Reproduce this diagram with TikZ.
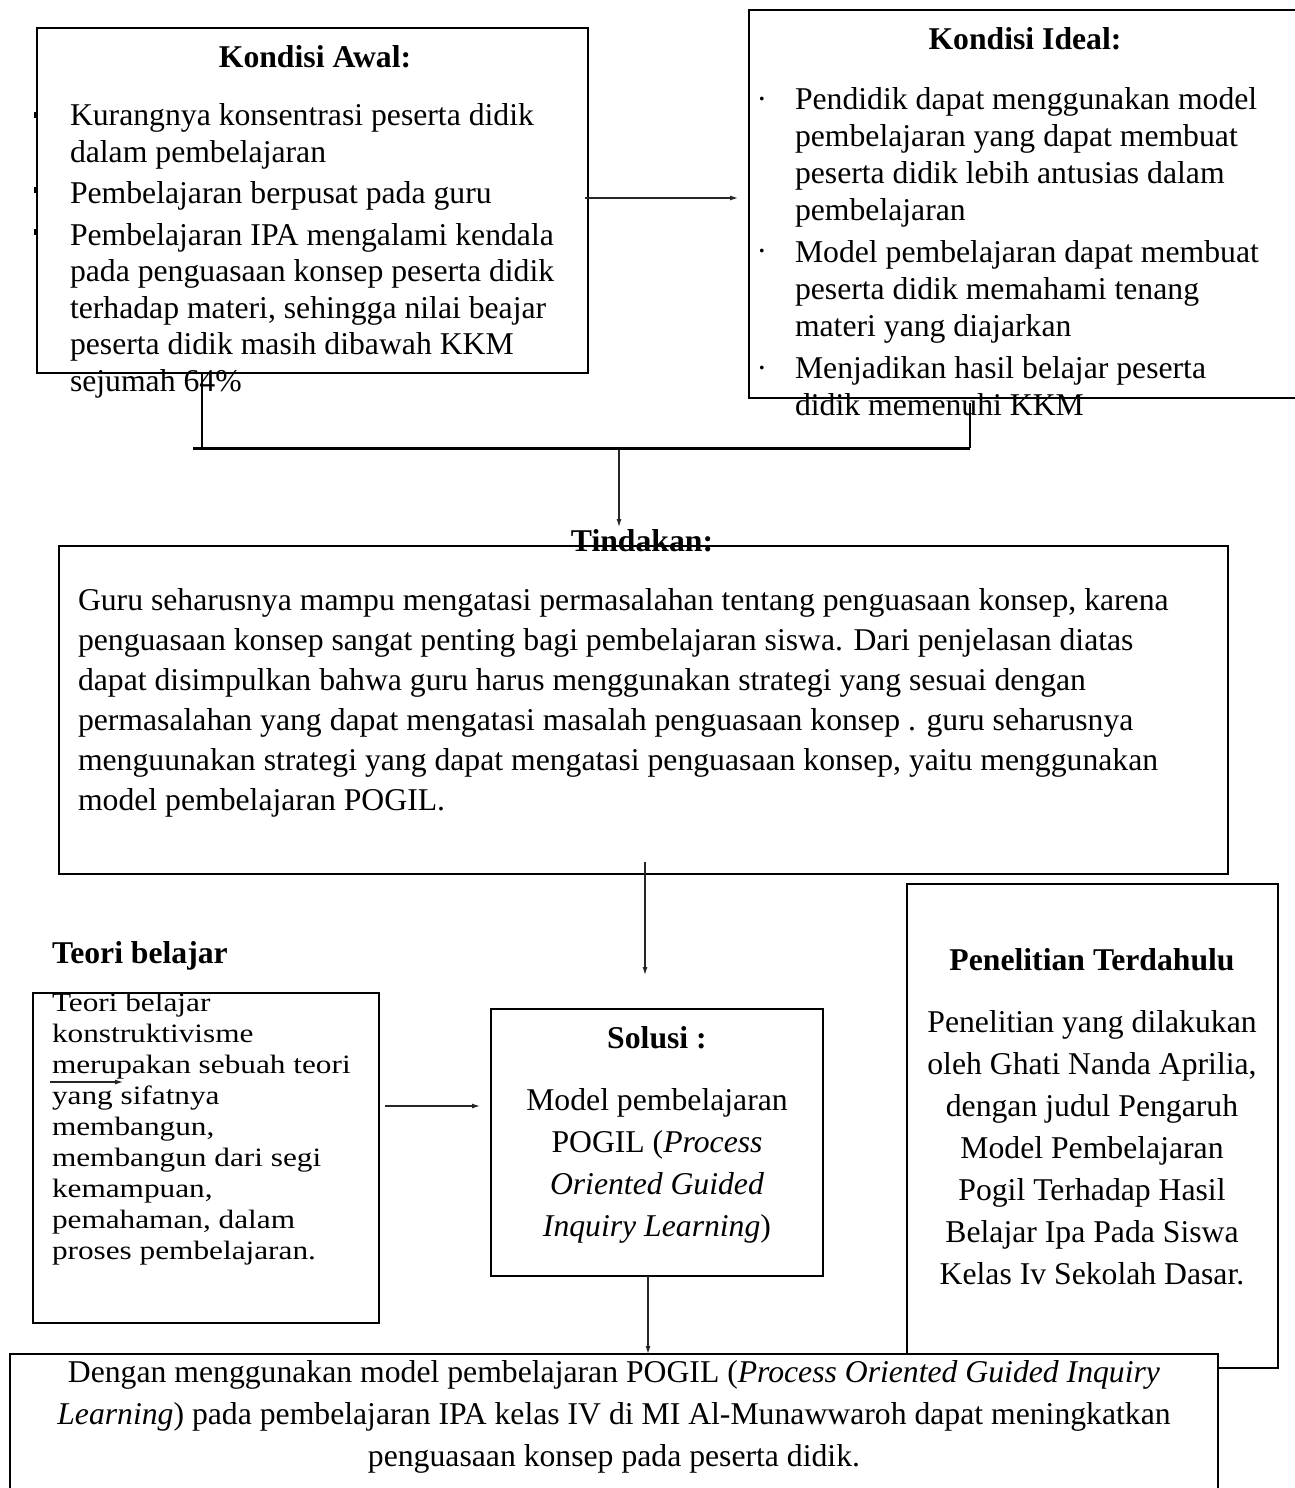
\documentclass[tikz,border=0pt]{standalone}
\usepackage{fontspec}
\setmainfont{Liberation Serif}
\newfontfamily\wideserif[FakeStretch=1.18]{Liberation Serif}
\usetikzlibrary{arrows.meta}
\newcommand\txtsize[1]{\fontsize{31.7}{#1}\selectfont}
\begin{document}
\begin{tikzpicture}[x=1pt,y=-1pt,
  box/.style={draw, line width=1.6pt, inner sep=0pt, outer sep=0pt},
  txt/.style={inner sep=0pt, outer sep=0pt},
  link/.style={line width=1.3pt},
  arrow/.style={line width=1.2pt, draw=black!85, -{Latex[length=8pt,width=5pt]}}]
\useasboundingbox (0,0) rectangle (1295,1488);
\fill[white] (0,0) rectangle (1295,1488);

% boxes
\node[box, minimum width=551, minimum height=345] (awal) at (312.5,200.5) {};
\node[box, minimum width=556, minimum height=388] (ideal) at (1027,204) {};
\node[box, minimum width=1169, minimum height=328] (tind) at (643.5,710) {};
\node[box, minimum width=346, minimum height=330] (teori) at (206,1158) {};
\node[box, minimum width=332, minimum height=267] (sol) at (657,1142.5) {};
\node[box, minimum width=371, minimum height=484] (pen) at (1092.5,1126) {};
\node[box, fill=white, minimum width=1208, minimum height=150] (bot) at (614,1429) {};

% Kondisi Awal
\node[txt, anchor=base, font=\txtsize{36}\bfseries] (awalT) at (315,67) {Kondisi Awal:};
\node[txt, anchor=base west, align=left, font=\txtsize{36.5}] (awalX) at (70,391) {Kurangnya konsentrasi peserta didik\\dalam pembelajaran\\[4.5pt]Pembelajaran berpusat pada guru\\[5.5pt]Pembelajaran IPA mengalami kendala\\pada penguasaan konsep peserta didik\\terhadap materi, sehingga nilai beajar\\peserta didik masih dibawah KKM\\sejumah 64\%};
\foreach \yy [count=\i] in {115,190,232}
  \fill (34,\yy-3) rectangle (36,\yy+3);

% Kondisi Ideal
\node[txt, anchor=base, font=\txtsize{36}\bfseries] (idealT) at (1025,50) {Kondisi Ideal:};
\node[txt, anchor=base west, align=left, font=\txtsize{37}] (idealX) at (795,415) {Pendidik dapat menggunakan model\\pembelajaran yang dapat membuat\\peserta didik lebih antusias dalam\\pembelajaran\\[5pt]Model pembelajaran dapat membuat\\peserta didik memahami tenang\\materi yang diajarkan\\[5pt]Menjadikan hasil belajar peserta\\didik memenuhi KKM};
\node[txt, anchor=base, font=\txtsize{37}] (b1) at (762,109) {·};
\node[txt, anchor=base, font=\txtsize{37}] (b2) at (762,261) {·};
\node[txt, anchor=base, font=\txtsize{37}] (b3) at (762,378) {·};

% Tindakan
\node[txt, inner sep=2pt, anchor=base, font=\txtsize{36}\bfseries] (tt) at (642,551) {Tindakan:};
\node[txt, anchor=base west, align=left, font=\txtsize{40}] (tindX) at (78,810) {Guru seharusnya mampu mengatasi permasalahan tentang penguasaan konsep, karena\\penguasaan konsep sangat penting bagi pembelajaran siswa. Dari penjelasan diatas\\dapat disimpulkan bahwa guru harus menggunakan strategi yang sesuai dengan\\permasalahan yang dapat mengatasi masalah penguasaan konsep . guru seharusnya\\menguunakan strategi yang dapat mengatasi penguasaan konsep, yaitu menggunakan\\model pembelajaran POGIL.};

% Teori belajar
\node[txt, anchor=base west, font=\txtsize{36}\bfseries] (teoriT) at (52,963) {Teori belajar};
\node[txt, anchor=base west, align=left, font={\fontsize{26.5}{31}\selectfont\wideserif}] (teoriX) at (52,1259) {Teori belajar\\konstruktivisme\\merupakan sebuah teori\\yang sifatnya\\membangun,\\membangun dari segi\\kemampuan,\\pemahaman, dalam\\proses pembelajaran.};

% Solusi
\node[txt, anchor=base, font=\txtsize{36}\bfseries] (solT) at (657,1048) {Solusi :};
\node[txt, anchor=base, align=center, font=\txtsize{42}] (solX) at (657,1236) {Model pembelajaran\\POGIL (\textit{Process}\\\textit{Oriented Guided}\\\textit{Inquiry Learning})};

% Penelitian Terdahulu
\node[txt, anchor=base, font=\txtsize{36}\bfseries] (penT) at (1092,970) {Penelitian Terdahulu};
\node[txt, anchor=base, align=center, font=\txtsize{42}] (penX) at (1092,1284) {Penelitian yang dilakukan\\oleh Ghati Nanda Aprilia,\\dengan judul Pengaruh\\Model Pembelajaran\\Pogil Terhadap Hasil\\Belajar Ipa Pada Siswa\\Kelas Iv Sekolah Dasar.};

% bottom conclusion
\node[txt, anchor=base, align=center, font=\txtsize{42}] (botX) at (614,1466) {Dengan menggunakan model pembelajaran POGIL (\textit{Process Oriented Guided Inquiry}\\\textit{Learning}) pada pembelajaran IPA kelas IV di MI Al-Munawwaroh dapat meningkatkan\\penguasaan konsep pada peserta didik.};

% connectors
\coordinate (jl) at (202,448);
\coordinate (jr) at (970,448);
\coordinate (jm) at (619,448);
\draw[link] (awal.south -| jl) -- (jl);
\draw[link] ([yshift=-5pt]ideal.south -| jr) -- (jr);
\draw[line width=3pt] ([xshift=-9pt]jl) -- (jr);
\draw[arrow] ([yshift=-2pt]jm) -- (jm |- tt.north);
\draw[arrow] ([xshift=-3pt,yshift=2.5pt]awal.east) -- ([xshift=-11pt,yshift=6pt]ideal.west);
\draw[arrow] ([xshift=-12pt,yshift=12pt]tind.south -| sol.north) -- ([xshift=-12pt,yshift=34pt]sol.north);
\draw[arrow] ([xshift=-9pt]sol.south) -- ([xshift=-9pt]sol.south |- bot.north);
\draw[arrow] ([xshift=6pt,yshift=52pt]teori.east) -- ([xshift=-11pt,yshift=36.5pt]sol.west);
\draw[arrow] ([xshift=17pt,yshift=76pt]teori.west) -- ([xshift=90pt,yshift=76pt]teori.west);
\end{tikzpicture}
\end{document}
